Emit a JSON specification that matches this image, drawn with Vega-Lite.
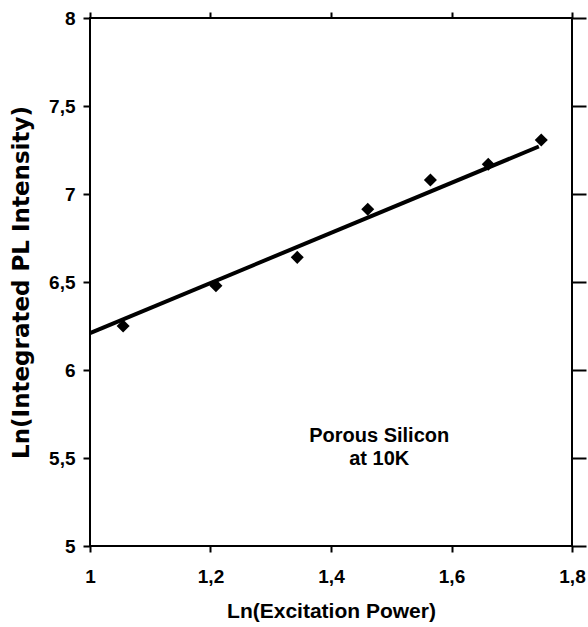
{
  "$schema": "https://vega.github.io/schema/vega-lite/v6.json",
  "width": 482,
  "height": 528,
  "autosize": {"type": "none"},
  "padding": {"left": 90, "top": 18, "right": 16, "bottom": 81},
  "background": "white",
  "config": {
    "view": {"stroke": "black", "strokeWidth": 2},
    "axis": {
      "domain": false,
      "grid": false,
      "tickColor": "black",
      "tickWidth": 2,
      "labelFont": "Liberation Sans",
      "labelFontWeight": "bold",
      "labelFontSize": 19,
      "labelColor": "black",
      "labelFlush": false,
      "labelOverlap": false,
      "titleFont": "Liberation Sans",
      "titleFontWeight": "bold",
      "titleFontSize": 21,
      "titleColor": "black"
    }
  },
  "datasets": {
    "points": [
      {"x": 1.055, "y": 6.25},
      {"x": 1.209, "y": 6.479},
      {"x": 1.344, "y": 6.64},
      {"x": 1.461, "y": 6.913},
      {"x": 1.565, "y": 7.08},
      {"x": 1.661, "y": 7.169},
      {"x": 1.749, "y": 7.307}
    ],
    "fit": [
      {"x": 1.0, "y": 6.21},
      {"x": 1.745, "y": 7.27}
    ],
    "note": [
      {"x": 1.48, "y": 5.593, "label": "Porous Silicon\nat 10K"}
    ]
  },
  "layer": [
    {
      "data": {"name": "fit"},
      "mark": {"type": "line", "color": "black", "strokeWidth": 4},
      "encoding": {
        "x": {
          "field": "x", "type": "quantitative",
          "scale": {"domain": [1, 1.8], "nice": false, "zero": false},
          "axis": {
            "orient": "bottom",
            "values": [1, 1.2, 1.4, 1.6, 1.8],
            "format": "~g",
            "tickSize": 6,
            "labelPadding": 15,
            "labelExpr": "replace(datum.label, '.', ',')",
            "title": "Ln(Excitation Power)",
            "titlePadding": 14
          }
        },
        "y": {
          "field": "y", "type": "quantitative",
          "scale": {"domain": [5, 8], "nice": false, "zero": false},
          "axis": {
            "orient": "left",
            "values": [5, 5.5, 6, 6.5, 7, 7.5, 8],
            "format": "~g",
            "tickSize": 7,
            "labelPadding": 8,
            "labelExpr": "replace(datum.label, '.', ',')",
            "title": "Ln(Integrated PL Intensity)",
            "titleFont": "DejaVu Sans",
            "titleFontSize": 23,
            "titlePadding": 15
          }
        }
      }
    },
    {
      "data": {"name": "points"},
      "mark": {"type": "point", "shape": "diamond", "filled": true, "color": "black", "size": 170, "opacity": 1},
      "encoding": {
        "x": {"field": "x", "type": "quantitative", "axis": null},
        "y": {"field": "y", "type": "quantitative", "axis": null}
      }
    },
    {
      "data": {"name": "note"},
      "mark": {"type": "text", "font": "Liberation Sans", "fontWeight": "bold", "fontSize": 20, "lineBreak": "\n", "lineHeight": 23, "align": "center", "baseline": "alphabetic", "color": "black"},
      "encoding": {
        "x": {"field": "x", "type": "quantitative", "axis": null},
        "y": {"field": "y", "type": "quantitative", "axis": null},
        "text": {"field": "label"}
      }
    },
    {
      "data": {"name": "points"},
      "mark": {"type": "point", "opacity": 0},
      "encoding": {
        "x": {
          "field": "x", "type": "quantitative",
          "axis": {"orient": "top", "values": [1, 1.2, 1.4, 1.6, 1.8], "labels": false, "tickSize": 6, "title": null}
        },
        "y": {
          "field": "y", "type": "quantitative",
          "axis": {"orient": "right", "values": [5, 5.5, 6, 6.5, 7, 7.5, 8], "labels": false, "tickSize": 14, "title": null}
        }
      }
    }
  ],
  "resolve": {"axis": {"x": "independent", "y": "independent"}}
}
